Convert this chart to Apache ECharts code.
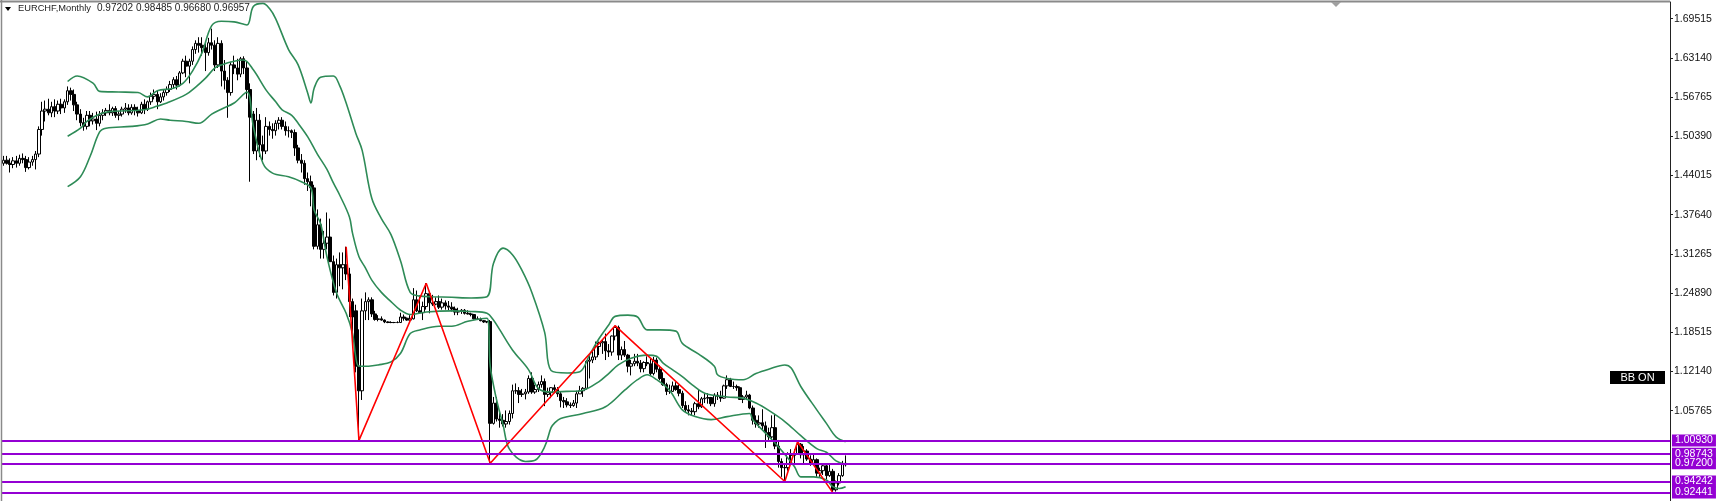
<!DOCTYPE html>
<html>
<head>
<meta charset="utf-8">
<script src="https://cdn.jsdelivr.net/npm/echarts@6/dist/echarts.min.js"></script>
<style>
html,body{margin:0;padding:0;background:#fff;}
#c{width:1721px;height:501px;}
</style>
</head>
<body>
<div id="c"></div>
<script>
// ---------------- DATA ----------------
const symbolTitle = 'EURCHF,Monthly';
const lastBarText = '0.97202 0.98485 0.96680 0.96957';
const firstMonth = [2002, 5];          // first candle: May 2002
const slotCount = 521;                  // candle slots across the chart width (incl. empty future)

// monthly candles [open, high, low, close]
const candles = [
// 2002 May-Dec
[1.4600,1.4720,1.4560,1.4650],[1.4650,1.4720,1.4580,1.4600],[1.4600,1.4680,1.4450,1.4580],[1.4580,1.4700,1.4520,1.4640],
[1.4640,1.4720,1.4530,1.4600],[1.4600,1.4740,1.4560,1.4680],[1.4680,1.4760,1.4600,1.4660],[1.4660,1.4720,1.4460,1.4530],
// 2003
[1.4530,1.4700,1.4500,1.4620],[1.4620,1.4720,1.4560,1.4660],[1.4660,1.4800,1.4500,1.4750],[1.4750,1.5200,1.4700,1.5150],
[1.5150,1.5600,1.5050,1.5450],[1.5450,1.5620,1.5280,1.5480],[1.5480,1.5650,1.5380,1.5420],[1.5420,1.5600,1.5350,1.5520],
[1.5520,1.5640,1.5350,1.5450],[1.5450,1.5620,1.5400,1.5560],[1.5560,1.5650,1.5400,1.5500],[1.5500,1.5640,1.5420,1.5600],
// 2004
[1.5600,1.5850,1.5550,1.5780],[1.5780,1.5830,1.5620,1.5720],[1.5720,1.5800,1.5450,1.5550],[1.5550,1.5600,1.5300,1.5400],
[1.5400,1.5480,1.5200,1.5260],[1.5260,1.5340,1.5130,1.5200],[1.5200,1.5450,1.5150,1.5380],[1.5380,1.5450,1.5200,1.5290],
[1.5290,1.5420,1.5230,1.5320],[1.5320,1.5440,1.5140,1.5250],[1.5250,1.5450,1.5200,1.5380],[1.5380,1.5480,1.5300,1.5420],
// 2005
[1.5420,1.5500,1.5370,1.5460],[1.5460,1.5560,1.5380,1.5420],[1.5420,1.5520,1.5370,1.5490],[1.5490,1.5530,1.5340,1.5380],
[1.5380,1.5450,1.5300,1.5400],[1.5400,1.5520,1.5360,1.5480],[1.5480,1.5580,1.5420,1.5500],[1.5500,1.5560,1.5380,1.5420],
[1.5420,1.5560,1.5390,1.5510],[1.5510,1.5560,1.5380,1.5460],[1.5460,1.5520,1.5360,1.5420],[1.5420,1.5600,1.5400,1.5560],
// 2006
[1.5560,1.5640,1.5400,1.5480],[1.5480,1.5620,1.5450,1.5600],[1.5600,1.5750,1.5550,1.5690],[1.5690,1.5800,1.5640,1.5720],
[1.5720,1.5780,1.5480,1.5600],[1.5600,1.5740,1.5580,1.5680],[1.5680,1.5800,1.5620,1.5750],[1.5750,1.5850,1.5700,1.5800],
[1.5800,1.5940,1.5760,1.5880],[1.5880,1.6000,1.5820,1.5960],[1.5960,1.6020,1.5800,1.5870],[1.5870,1.6100,1.5850,1.6070],
// 2007
[1.6070,1.6300,1.6050,1.6260],[1.6260,1.6350,1.6000,1.6180],[1.6180,1.6300,1.5900,1.6260],[1.6260,1.6500,1.6200,1.6450],
[1.6450,1.6600,1.6380,1.6550],[1.6550,1.6650,1.6400,1.6520],[1.6520,1.6650,1.6350,1.6480],[1.6480,1.6550,1.6100,1.6400],
[1.6400,1.6640,1.6350,1.6560],[1.6560,1.6790,1.6450,1.6520],[1.6520,1.6600,1.6100,1.6200],[1.6200,1.6650,1.6150,1.6550],
// 2008
[1.6550,1.6600,1.5850,1.6100],[1.6100,1.6280,1.5800,1.5950],[1.5950,1.6000,1.5340,1.5750],[1.5750,1.6250,1.5700,1.6200],
[1.6200,1.6350,1.6050,1.6150],[1.6150,1.6300,1.5950,1.6050],[1.6050,1.6330,1.6000,1.6300],[1.6300,1.6340,1.6050,1.6150],
[1.6150,1.6250,1.5650,1.5800],[1.5800,1.5900,1.4300,1.5350],[1.5400,1.5450,1.4750,1.4800],[1.4800,1.5500,1.4650,1.5300],
// 2009
[1.5300,1.5400,1.4700,1.4900],[1.4900,1.5050,1.4650,1.4800],[1.4800,1.5350,1.4750,1.5200],[1.5200,1.5280,1.5050,1.5150],
[1.5150,1.5250,1.5000,1.5130],[1.5130,1.5300,1.5050,1.5250],[1.5250,1.5350,1.5150,1.5300],[1.5300,1.5350,1.5150,1.5200],
[1.5200,1.5280,1.5050,1.5130],[1.5130,1.5200,1.5020,1.5130],[1.5130,1.5150,1.5010,1.5100],[1.5100,1.5150,1.4720,1.4850],
// 2010
[1.4850,1.4900,1.4600,1.4650],[1.4650,1.4750,1.4450,1.4600],[1.4600,1.4650,1.4250,1.4350],[1.4350,1.4450,1.4150,1.4300],
[1.4300,1.4400,1.3900,1.4200],[1.4200,1.4250,1.3200,1.3250],[1.3250,1.3850,1.3200,1.3600],[1.3600,1.3700,1.3050,1.3200],
[1.3200,1.3500,1.3050,1.3300],[1.3300,1.3800,1.3200,1.3400],[1.3400,1.3700,1.3000,1.3000],[1.3000,1.3100,1.2450,1.2500],
// 2011
[1.2500,1.3050,1.2400,1.2950],[1.2950,1.3150,1.2600,1.2900],[1.2900,1.3150,1.2550,1.2950],[1.2950,1.3243,1.2700,1.2800],
[1.2800,1.2900,1.2100,1.2350],[1.2350,1.2400,1.1700,1.2100],[1.2200,1.2300,1.1200,1.1300],[1.1300,1.1900,1.0093,1.0900],
[1.0900,1.2400,1.0750,1.2200],[1.2200,1.2500,1.2050,1.2350],[1.2350,1.2420,1.2050,1.2380],[1.2380,1.2420,1.2100,1.2150],
// 2012
[1.2150,1.2200,1.2040,1.2060],[1.2060,1.2130,1.2030,1.2070],[1.2070,1.2110,1.2040,1.2050],[1.2050,1.2060,1.2000,1.2020],
[1.2020,1.2030,1.2000,1.2010],[1.2010,1.2030,1.2000,1.2010],[1.2010,1.2020,1.2000,1.2010],[1.2010,1.2030,1.2000,1.2010],
[1.2010,1.2170,1.2010,1.2100],[1.2100,1.2140,1.2040,1.2080],[1.2080,1.2090,1.2040,1.2050],[1.2050,1.2130,1.2040,1.2070],
// 2013
[1.2070,1.2570,1.2060,1.2380],[1.2380,1.2530,1.2180,1.2200],[1.2200,1.2450,1.2160,1.2170],[1.2170,1.2350,1.2050,1.2270],
[1.2270,1.2650,1.2220,1.2480],[1.2480,1.2500,1.2160,1.2330],[1.2330,1.2460,1.2280,1.2310],[1.2310,1.2420,1.2290,1.2350],
[1.2350,1.2450,1.2230,1.2260],[1.2260,1.2400,1.2220,1.2330],[1.2330,1.2370,1.2220,1.2280],[1.2280,1.2360,1.2210,1.2260],
// 2014
[1.2260,1.2340,1.2190,1.2230],[1.2230,1.2270,1.2130,1.2180],[1.2180,1.2250,1.2130,1.2190],[1.2190,1.2230,1.2150,1.2210],
[1.2210,1.2230,1.2140,1.2160],[1.2160,1.2210,1.2140,1.2150],[1.2150,1.2170,1.2110,1.2140],[1.2140,1.2150,1.2060,1.2070],
[1.2070,1.2110,1.2050,1.2060],[1.2060,1.2090,1.2030,1.2040],[1.2040,1.2050,1.2005,1.2020],[1.2020,1.2030,1.2000,1.2025],
// 2015
[1.2025,1.2050,0.9720,1.0370],[1.0370,1.0800,1.0350,1.0700],[1.0700,1.0800,1.0400,1.0440],[1.0440,1.0560,1.0300,1.0420],
[1.0420,1.0520,1.0320,1.0360],[1.0360,1.0580,1.0300,1.0400],[1.0400,1.0580,1.0350,1.0530],[1.0530,1.1000,1.0450,1.0900],
[1.0900,1.1020,1.0850,1.0900],[1.0900,1.0960,1.0700,1.0840],[1.0840,1.0930,1.0800,1.0850],[1.0850,1.0930,1.0760,1.0880],
// 2016
[1.0880,1.1150,1.0850,1.1100],[1.1100,1.1200,1.0850,1.0880],[1.0880,1.1000,1.0850,1.0920],[1.0920,1.1050,1.0880,1.1000],
[1.1000,1.1150,1.0950,1.1050],[1.1050,1.1100,1.0650,1.0840],[1.0840,1.0950,1.0800,1.0870],[1.0870,1.0960,1.0780,1.0950],
[1.0950,1.1000,1.0860,1.0920],[1.0920,1.0960,1.0800,1.0850],[1.0850,1.0880,1.0630,1.0740],[1.0740,1.0800,1.0620,1.0720],
// 2017
[1.0720,1.0780,1.0630,1.0670],[1.0670,1.0710,1.0620,1.0660],[1.0660,1.0750,1.0640,1.0700],[1.0700,1.0900,1.0620,1.0850],
[1.0850,1.0980,1.0850,1.0900],[1.0900,1.0960,1.0800,1.0940],[1.0940,1.1400,1.0920,1.1380],[1.1380,1.1500,1.1100,1.1400],
[1.1400,1.1580,1.1350,1.1450],[1.1450,1.1700,1.1400,1.1620],[1.1620,1.1700,1.1480,1.1680],[1.1680,1.1730,1.1500,1.1700],
// 2018
[1.1700,1.1830,1.1400,1.1550],[1.1550,1.1660,1.1450,1.1530],[1.1530,1.1800,1.1470,1.1790],[1.1790,1.1959,1.1720,1.1930],
[1.1930,1.1960,1.1400,1.1480],[1.1480,1.1620,1.1400,1.1570],[1.1570,1.1710,1.1450,1.1480],[1.1480,1.1500,1.1200,1.1300],
[1.1300,1.1400,1.1150,1.1340],[1.1340,1.1500,1.1300,1.1380],[1.1380,1.1500,1.1300,1.1350],[1.1350,1.1400,1.1200,1.1260],
// 2019
[1.1260,1.1380,1.1200,1.1360],[1.1360,1.1460,1.1300,1.1340],[1.1340,1.1420,1.1150,1.1180],[1.1180,1.1450,1.1150,1.1400],
[1.1400,1.1440,1.1200,1.1250],[1.1250,1.1310,1.1070,1.1100],[1.1100,1.1200,1.0980,1.1000],[1.1000,1.1030,1.0830,1.0890],
[1.0890,1.1000,1.0850,1.0890],[1.0890,1.1050,1.0880,1.0980],[1.0980,1.1040,1.0900,1.0920],[1.0920,1.1000,1.0810,1.0860],
// 2020
[1.0860,1.0900,1.0620,1.0660],[1.0660,1.0730,1.0550,1.0590],[1.0590,1.0670,1.0500,1.0570],[1.0570,1.0620,1.0500,1.0560],
[1.0560,1.0720,1.0500,1.0690],[1.0690,1.0920,1.0600,1.0640],[1.0640,1.0800,1.0620,1.0770],[1.0770,1.0860,1.0700,1.0780],
[1.0780,1.0860,1.0690,1.0790],[1.0790,1.0800,1.0650,1.0690],[1.0690,1.0860,1.0640,1.0830],[1.0830,1.0880,1.0750,1.0810],
// 2021
[1.0810,1.0900,1.0720,1.0780],[1.0780,1.1000,1.0770,1.0980],[1.0980,1.1150,1.0930,1.1080],[1.1080,1.1110,1.0960,1.0970],
[1.0970,1.1050,1.0930,1.0970],[1.0970,1.1000,1.0900,1.0950],[1.0950,1.0970,1.0750,1.0760],[1.0760,1.0830,1.0700,1.0800],
[1.0800,1.0900,1.0750,1.0830],[1.0830,1.0850,1.0600,1.0620],[1.0620,1.0660,1.0350,1.0420],[1.0420,1.0500,1.0300,1.0360],
// 2022
[1.0360,1.0500,1.0300,1.0380],[1.0380,1.0600,1.0250,1.0330],[1.0330,1.0400,0.9970,1.0220],[1.0220,1.0300,1.0100,1.0150],
[1.0150,1.0500,1.0120,1.0300],[1.0300,1.0520,0.9950,1.0000],[1.0000,1.0100,0.9650,0.9750],[0.9750,0.9800,0.9500,0.9650],
[0.9650,0.9700,0.9424,0.9650],[0.9650,0.9900,0.9600,0.9870],[0.9870,0.9950,0.9750,0.9850],[0.9850,0.9950,0.9700,0.9880],
// 2023
[0.9880,1.0070,0.9860,1.0030],[1.0030,1.0050,0.9800,0.9860],[0.9860,1.0000,0.9700,0.9920],[0.9920,0.9950,0.9760,0.9790],
[0.9790,0.9850,0.9680,0.9720],[0.9720,0.9880,0.9700,0.9780],[0.9780,0.9800,0.9500,0.9560],[0.9560,0.9650,0.9500,0.9600],
[0.9600,0.9700,0.9530,0.9680],[0.9680,0.9720,0.9460,0.9520],[0.9520,0.9710,0.9500,0.9590],[0.9590,0.9630,0.9244,0.9290],
// 2024 Jan-Apr
[0.9290,0.9440,0.9260,0.9400],[0.9400,0.9560,0.9360,0.9520],[0.9520,0.9760,0.9500,0.9720],[0.97202,0.98485,0.96680,0.96957]
];

// Bollinger bands: [candle index, price]
const bbUpper = [[20,1.593],[23,1.602],[28,1.590],[30,1.577],[36,1.576],[42,1.575],[45,1.568],[48,1.578],[53,1.582],[56,1.590],[59,1.610],[62,1.640],[65,1.684],[68,1.691],[72,1.690],[76,1.685],[78,1.715],[81,1.720],[83,1.712],[85,1.695],[89,1.645],[92,1.620],[95,1.574],[96,1.558],[97,1.582],[99,1.600],[103,1.602],[105,1.586],[107,1.558],[110,1.509],[112,1.481],[115,1.403],[118,1.370],[121,1.344],[124,1.301],[127,1.250],[130,1.244],[134,1.243],[140,1.242],[146,1.241],[151,1.243],[153,1.297],[156,1.322],[159,1.311],[162,1.285],[165,1.250],[169,1.185],[171,1.123],[176,1.119],[180,1.121],[183,1.148],[186,1.175],[189,1.197],[191,1.211],[195,1.213],[198,1.210],[201,1.189],[205,1.189],[210,1.187],[212,1.167],[217,1.150],[222,1.130],[223,1.116],[226,1.110],[231,1.108],[235,1.118],[239,1.125],[244,1.132],[246,1.127],[249,1.097],[254,1.059],[257,1.037],[260,1.015],[263,1.007]];
const bbMiddle = [[20,1.504],[24,1.517],[26,1.528],[30,1.540],[33,1.544],[44,1.547],[48,1.553],[51,1.558],[57,1.572],[60,1.584],[63,1.598],[66,1.615],[68,1.620],[72,1.626],[75,1.628],[78,1.612],[82,1.579],[85,1.560],[87,1.547],[90,1.538],[92,1.525],[95,1.503],[98,1.475],[101,1.450],[103,1.428],[105,1.408],[108,1.373],[109,1.346],[111,1.308],[113,1.290],[115,1.270],[118,1.250],[121,1.235],[124,1.221],[127,1.214],[132,1.218],[140,1.220],[146,1.219],[151,1.216],[153,1.205],[155,1.189],[159,1.156],[164,1.124],[167,1.094],[171,1.088],[176,1.089],[181,1.091],[186,1.105],[189,1.118],[192,1.132],[196,1.143],[201,1.148],[204,1.146],[206,1.135],[209,1.124],[212,1.113],[215,1.100],[219,1.086],[226,1.080],[231,1.078],[235,1.070],[239,1.058],[244,1.040],[249,1.017],[254,0.996],[257,0.990],[260,0.976],[263,0.970]];
const bbLower = [[20,1.422],[24,1.438],[27,1.471],[30,1.511],[32,1.517],[40,1.520],[45,1.524],[49,1.532],[52,1.530],[57,1.528],[61,1.525],[65,1.540],[68,1.548],[72,1.558],[76,1.576],[78,1.520],[81,1.460],[84,1.444],[89,1.438],[93,1.430],[96,1.420],[97,1.384],[99,1.362],[101,1.308],[104,1.249],[107,1.216],[109,1.183],[110,1.145],[111,1.130],[114,1.130],[117,1.132],[121,1.137],[124,1.151],[127,1.183],[130,1.189],[136,1.195],[140,1.195],[145,1.203],[151,1.208],[152,1.130],[154,1.075],[156,1.035],[158,0.995],[163,0.975],[166,0.977],[169,0.999],[171,1.030],[172,1.037],[174,1.045],[181,1.053],[188,1.064],[194,1.091],[198,1.108],[201,1.116],[204,1.108],[208,1.091],[212,1.059],[216,1.048],[221,1.043],[226,1.048],[233,1.053],[234,1.043],[238,1.021],[242,0.999],[247,0.967],[249,0.950],[253,0.950],[257,0.945],[259,0.934],[261,0.931],[263,0.934]];

// ZigZag pivots: [candle index, price]
const zigzag = [[107,1.3243],[111,1.0093],[132,1.2648],[152,0.9720],[191,1.1959],[244,0.9424],[248,1.0070],[259,0.9244]];

// horizontal levels
const levels = [1.00930, 0.98743, 0.97200, 0.94242, 0.92441];

// price scale ticks
const priceTicks = [1.69515,1.63140,1.56765,1.50390,1.44015,1.37640,1.31265,1.24890,1.18515,1.12140,1.05765];
const priceMin = 0.91073, priceMax = 1.72231;

// ---------------- CHART ----------------
const months = [];
for (let k = 0; k < slotCount; k++) {
  const m = firstMonth[1] - 1 + k;
  months.push((firstMonth[0] + Math.floor(m / 12)) + '-' + String(m % 12 + 1).padStart(2, '0'));
}
const kData = candles.map(r => [r[0], r[3], r[2], r[1]]);
const FONT = '"Liberation Sans", Arial, sans-serif';
const GREEN = '#2E8B57';
const VIOLET = '#9400D3';

const chart = echarts.init(document.getElementById('c'), null, {renderer: 'canvas'});
chart.setOption({
  animation: false,
  backgroundColor: '#ffffff',
  grid: {left: 2, right: 51, top: 2, bottom: 0, containLabel: false},
  xAxis: {
    type: 'category', data: months, boundaryGap: true,
    axisLine: {show: false}, axisTick: {show: false}, axisLabel: {show: false}, splitLine: {show: false}
  },
  yAxis: {
    type: 'value', position: 'right', min: priceMin, max: priceMax, scale: true,
    axisLine: {show: true, lineStyle: {color: '#222', width: 1}},
    axisTick: {show: true, length: 3, inside: false, customValues: priceTicks, lineStyle: {color: '#222'}},
    axisLabel: {show: true, customValues: priceTicks, margin: 4, color: '#111', fontSize: 10.5, fontFamily: FONT,
      formatter: v => v.toFixed(5)},
    splitLine: {show: false}
  },
  series: [
    {
      type: 'candlestick', data: kData, barWidth: 3, z: 2,
      itemStyle: {color: '#ffffff', color0: '#000000', borderColor: '#000000', borderColor0: '#000000', borderWidth: 1},
      markLine: {
        silent: true, symbol: ['none', 'none'], z: 6, precision: 5,
        lineStyle: {color: VIOLET, width: 2, type: 'solid'},
        label: {show: true, position: 'end', distance: 2, color: '#ffffff', backgroundColor: VIOLET,
          padding: [1, 3, 0, 3], fontSize: 10.5, fontFamily: FONT},
        data: levels.map(v => ({yAxis: v, label: {formatter: v.toFixed(5)}}))
      }
    },
    {type: 'line', data: bbUpper, smooth: 0.35, showSymbol: false, z: 3, lineStyle: {color: GREEN, width: 1.6}},
    {type: 'line', data: bbMiddle, smooth: 0.35, showSymbol: false, z: 3, lineStyle: {color: GREEN, width: 1.6}},
    {type: 'line', data: bbLower, smooth: 0.35, showSymbol: false, z: 3, lineStyle: {color: GREEN, width: 1.6}},
    {type: 'line', data: zigzag, smooth: false, showSymbol: false, z: 4, lineStyle: {color: '#FF0000', width: 1.6}}
  ],
  graphic: [
    {type: 'line', shape: {x1: 0, y1: 1.5, x2: 1670, y2: 1.5}, style: {stroke: '#8a8a8a', lineWidth: 2}, z: 10},
    {type: 'line', shape: {x1: 1.5, y1: 0, x2: 1.5, y2: 501}, style: {stroke: '#8a8a8a', lineWidth: 1.5}, z: 10},
    {type: 'polygon', shape: {points: [[5, 7], [11, 7], [8, 11]]}, style: {fill: '#000'}, z: 10},
    {type: 'text', left: 18, top: 4, style: {text: symbolTitle, fill: '#222', font: '9.3px ' + FONT}, z: 10},
    {type: 'text', left: 97, top: 3, style: {text: lastBarText, fill: '#222', font: '10px ' + FONT}, z: 10},
    {type: 'polygon', shape: {points: [[1331, 2], [1341, 2], [1336, 7]]}, style: {fill: '#a0a0a0'}, z: 10},
    {type: 'rect', shape: {x: 1610, y: 371, width: 55, height: 13}, style: {fill: '#000'}, z: 10},
    {type: 'text', x: 1637.5, y: 377.5, style: {text: 'BB ON', fill: '#fff', font: '11px ' + FONT, align: 'center', verticalAlign: 'middle'}, z: 11}
  ]
});
</script>
</body>
</html>
